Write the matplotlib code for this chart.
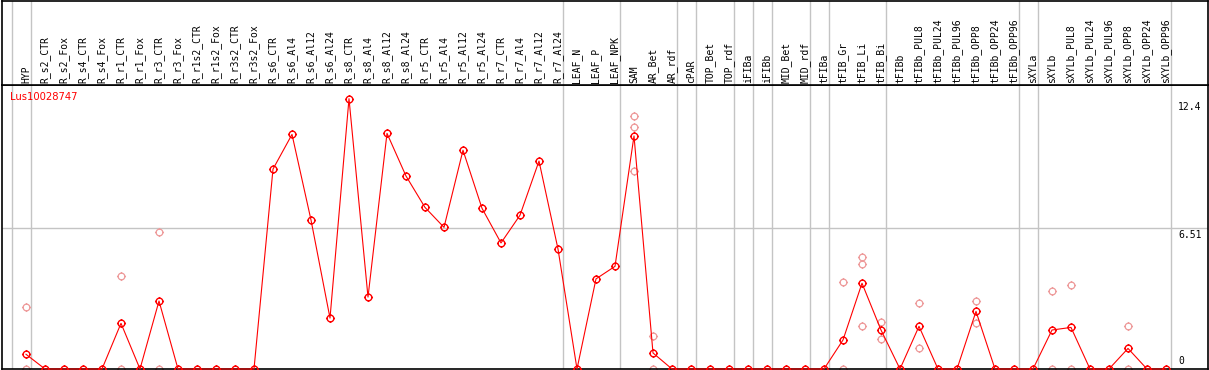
import matplotlib
matplotlib.use("Agg")
import matplotlib.pyplot as plt
from matplotlib.path import Path

# sample columns, left to right
samples = [
    "HYP",
    "R_s2_CTR", "R_s2_Fox", "R_s4_CTR", "R_s4_Fox",
    "R_r1_CTR", "R_r1_Fox", "R_r3_CTR", "R_r3_Fox",
    "R_r1s2_CTR", "R_r1s2_Fox", "R_r3s2_CTR", "R_r3s2_Fox",
    "R_s6_CTR", "R_s6_Al4", "R_s6_Al12", "R_s6_Al24",
    "R_s8_CTR", "R_s8_Al4", "R_s8_Al12", "R_s8_Al24",
    "R_r5_CTR", "R_r5_Al4", "R_r5_Al12", "R_r5_Al24",
    "R_r7_CTR", "R_r7_Al4", "R_r7_Al12", "R_r7_Al24",
    "LEAF_N", "LEAF_P", "LEAF_NPK", "SAM",
    "AR_Bet", "AR_rdf", "cPAR", "TOP_Bet", "TOP_rdf",
    "iFIBa", "iFIBb", "MID_Bet", "MID_rdf",
    "tFIBa", "tFIB_Gr", "tFIB_Li", "tFIB_Bi", "tFIBb",
    "tFIBb_PUL8", "tFIBb_PUL24", "tFIBb_PUL96",
    "tFIBb_OPP8", "tFIBb_OPP24", "tFIBb_OPP96",
    "sXYLa", "sXYLb",
    "sXYLb_PUL8", "sXYLb_PUL24", "sXYLb_PUL96",
    "sXYLb_OPP8", "sXYLb_OPP24", "sXYLb_OPP96",
]

# mean expression per sample
means = [
    0.68,
    0, 0, 0, 0,
    2.11, 0, 3.14, 0,
    0, 0, 0, 0,
    9.23, 10.83, 6.88, 2.35,
    12.48, 3.32, 10.88, 8.91,
    7.46, 6.54, 10.10, 7.42,
    5.82, 7.10, 9.60, 5.54,
    0, 4.16, 4.74, 10.76,
    0.74, 0, 0, 0, 0,
    0, 0, 0, 0,
    0, 1.34, 3.96, 1.80, 0,
    1.97, 0, 0,
    2.66, 0, 0,
    0, 1.80,
    1.92, 0, 0,
    0.95, 0, 0,
]

# individual replicates (only where shown)
rep_samples = [
    "HYP", "HYP",
    "R_r1_CTR", "R_r1_CTR",
    "R_r3_CTR", "R_r3_CTR",
    "SAM", "SAM", "SAM",
    "AR_Bet", "AR_Bet",
    "tFIB_Gr", "tFIB_Gr",
    "tFIB_Li", "tFIB_Li", "tFIB_Li",
    "tFIB_Bi", "tFIB_Bi",
    "tFIBb_PUL8", "tFIBb_PUL8",
    "tFIBb_OPP8", "tFIBb_OPP8",
    "sXYLb", "sXYLb",
    "sXYLb_PUL8", "sXYLb_PUL8",
    "sXYLb_OPP8", "sXYLb_OPP8",
]
rep_values = [
    2.85, 0,
    4.28, 0,
    6.31, 0,
    11.70, 11.16, 9.13,
    1.52, 0,
    4.00, 0,
    5.17, 4.85, 1.97,
    2.17, 1.39,
    3.03, 0.95,
    3.13, 2.14,
    3.60, 0,
    3.88, 0,
    1.97, 0,
]

# group separators drawn after these samples
group_ends = ["HYP", "R_r7_Al24", "LEAF_NPK", "AR_rdf", "cPAR", "TOP_rdf",
              "iFIBa", "iFIBb", "MID_rdf", "tFIBa", "tFIB_Bi",
              "tFIBb_OPP96", "sXYLa", "sXYLb_OPP96"]

gene = "Lus10028747"
ytick_vals = [12.4, 6.51, 0]
ytick_text = ["12.4", "6.51", "0"]

W, H = 1209, 370
fig = plt.figure(figsize=(W / 100, H / 100), dpi=100)

# pixel layout
left_px, right_px = 1.5, 1207.5
base_px, head_px = 369, 85
x0_px, pitch = 26, 19
px_per_unit = 21.66

xlim = ((left_px - x0_px) / pitch, (right_px - x0_px) / pitch)
ax = fig.add_axes([left_px / W, (H - base_px) / H,
                   (right_px - left_px) / W, (base_px - head_px) / H])
hx = fig.add_axes([left_px / W, (H - head_px) / H,
                   (right_px - left_px) / W, (head_px - 0.5) / H], sharex=ax)

xs = list(range(len(samples)))
ax.set_xlim(*xlim)
ax.set_ylim(0, (base_px - head_px) / px_per_unit)

grey = "#c4c4c4"
for a in (ax, hx):
    a.set_xticks([])
    a.set_yticks([])
    for s in a.spines.values():
        s.set_color("black")
        s.set_linewidth(1.2)
    for g in group_ends:
        a.axvline(samples.index(g) + 0.25, color=grey, lw=1.0, zorder=0)
hx.axvline(-0.75, color=grey, lw=1.0, zorder=0)
ax.axvline(-0.75, color=grey, lw=1.0, zorder=0)
ax.axhline(6.51, color=grey, lw=1.0, zorder=0)
hx.set_ylim(0, 1)

# circle with four small ticks
circ = Path.unit_circle()
ticks = Path([(0, 1), (0, 1.35), (0, -1), (0, -1.35),
              (1, 0), (1.35, 0), (-1, 0), (-1.35, 0)],
             [Path.MOVETO, Path.LINETO] * 4)
marker = Path.make_compound_path(circ, ticks)

rep_x = [samples.index(s) for s in rep_samples]
ax.plot(rep_x, rep_values, ls="none", marker=marker, ms=6.5,
        mfc="none", mec="#ee9a9a", mew=0.9, zorder=2, clip_on=False)
ax.plot(xs, means, color="#ff0000", lw=0.8, marker=marker, ms=6.5,
        mfc="none", mec="#ff0000", mew=1.0, zorder=3, clip_on=False)

# column labels
for i, lab in enumerate(samples):
    hx.text(i, 2.5 / head_px, lab, rotation=90, ha="center", va="bottom",
            family="DejaVu Sans Mono", fontsize=7, color="black")

ax.text((10 - left_px) / (right_px - left_px), 1 - 12.5 / (base_px - head_px),
        gene, transform=ax.transAxes, ha="left", va="center",
        color="#ff0000", fontsize=7.2, family="DejaVu Sans")

# value labels on the right
lab_x = (1178 - x0_px) / pitch
for v, t in zip(ytick_vals, ytick_text):
    if v == 0:
        ax.annotate(t, (lab_x, v), xytext=(0, 3), textcoords="offset pixels",
                    ha="left", va="bottom", family="DejaVu Sans Mono", fontsize=7)
    else:
        ax.annotate(t, (lab_x, v), xytext=(0, -2), textcoords="offset pixels",
                    ha="left", va="top", family="DejaVu Sans Mono", fontsize=7)

fig.savefig("out.png", dpi=100)
